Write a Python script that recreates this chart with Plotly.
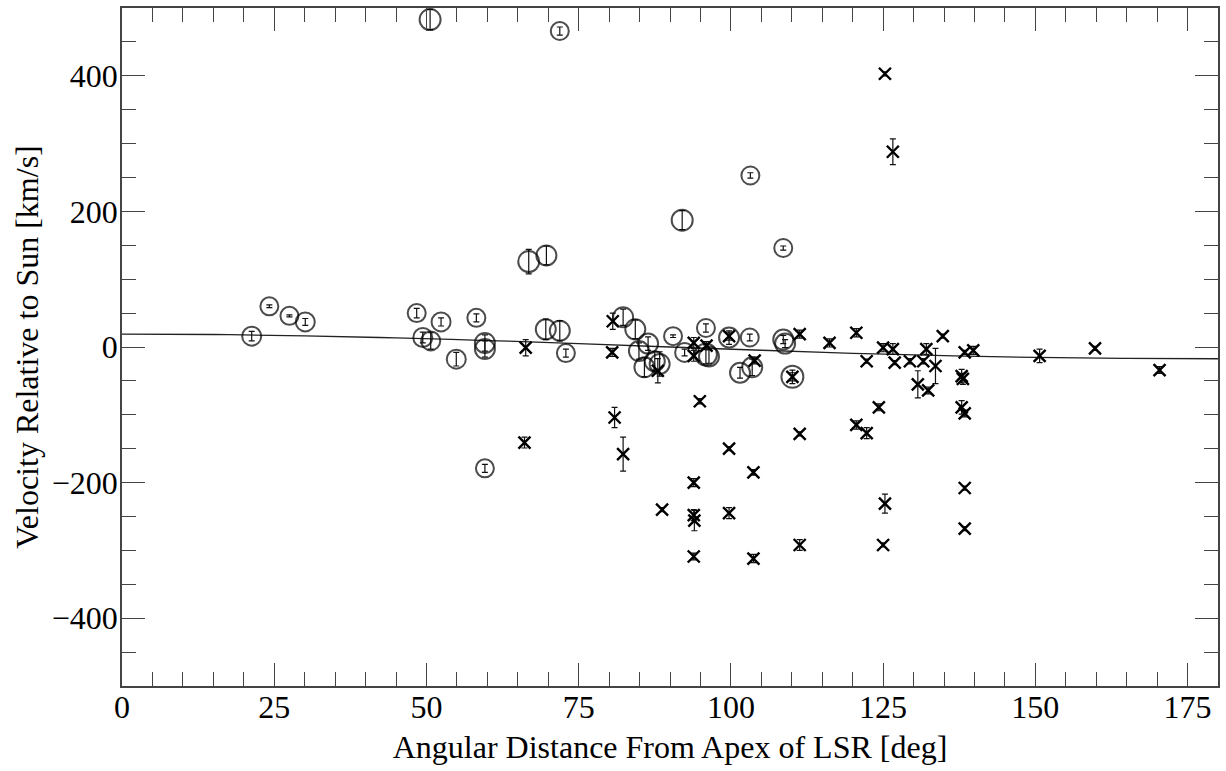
import plotly.graph_objects as go

# Circle-marked objects: angle [deg], velocity [km/s], error [km/s]
circ_x = [21.3, 24.2, 27.5, 30.1, 48.4, 49.4, 50.6, 50.7, 52.4, 54.9, 58.2, 59.6, 59.6, 59.6,
          66.8, 69.7, 69.6, 71.9, 71.9, 72.9, 82.3, 84.3, 86.4, 84.9, 85.8, 87.5, 88.3, 90.5,
          92.4, 92.0, 95.9, 95.9, 96.4, 99.7, 103.1, 101.5, 103.5, 103.2, 108.6, 108.6, 108.9, 110.1]
circ_y = [16, 60, 46, 37, 50, 14, 483, 9, 37, -18, 43, 6, -3, -179,
          126, 135, 26, 24, 466, -9, 44, 26, 5, -6, -30, -21, -25, 16,
          -8, 187, 28, -11, -14, 14, 14, -38, -30, 253, 146, 11, 5, -44]
circ_err = [7, 2, 1.5, 5, 7, 8, 15, 12, 6, 10, 6, 12, 12, 6,
            18, 14, 15, 15, 6, 6, 12, 14, 10, 12, 14, 14, 18, 2,
            5, 14, 6, 14, 10, 10, 5, 8, 12, 4, 3, 6, 6, 10]
circ_size = [19, 18, 18, 19, 18, 19, 21, 19, 19, 19, 18, 20, 20, 18,
             21, 20, 20, 20, 18, 18, 20, 20, 20, 20, 20, 20, 20, 18,
             19, 21, 18, 22, 20, 20, 18, 20, 20, 18, 18, 20, 20, 22]

# Cross-marked objects
xs_x = [66.3, 66.1, 80.6, 80.5, 80.9, 82.3, 88.0, 88.7, 93.9, 93.9, 96.0, 94.9, 93.9, 93.9,
        94.0, 93.9, 99.7, 99.7, 99.7, 103.9, 103.7, 103.7, 110.1, 111.3, 111.3, 111.3, 116.2,
        120.6, 125.3, 120.6, 122.3, 122.3, 124.3, 125.0, 125.3, 125.0, 126.6, 126.6, 126.9,
        129.4, 130.7, 131.6, 132.1, 132.4, 133.6, 134.8, 137.9, 138.1, 137.9, 138.4, 138.4,
        139.8, 138.4, 138.4, 150.7, 159.8, 170.4]
xs_y = [-1, -141, 38, -8, -104, -158, -35, -240, 6, -13, 2, -80, -200, -248,
        -256, -309, 16, -150, -245, -20, -185, -312, -44, 19, -128, -292, 6,
        21, 403, -115, -21, -127, -89, -1, -231, -292, -3, 288, -23,
        -21, -55, -21, -3, -64, -28, 16, -43, -47, -89, -98, -8,
        -5, -208, -268, -13, -2, -34]
xs_err = [12, 8, 12, 6, 15, 25, 18, 3, 8, 8, 6, 4, 6, 8,
          15, 5, 6, 3, 8, 5, 4, 6, 6, 6, 3, 8, 6,
          6, 3, 6, 3, 8, 5, 6, 14, 3, 8, 19, 3,
          4, 20, 4, 8, 5, 26, 3, 10, 8, 10, 5, 3,
          6, 3, 3, 10, 3, 5]

# Fit curve
fit_x = [0, 15, 30, 45, 60, 75, 90, 105, 120, 135, 150, 165, 180]
fit_y = [19, 18.4, 16.5, 13.4, 9.5, 5, 0, -4.8, -9.3, -12.8, -15.3, -16.7, -17.3]

FONT = "Liberation Serif"

fig = go.Figure()
fig.add_trace(go.Scatter(x=fit_x, y=fit_y, mode="lines",
                         line=dict(color="#222222", width=1.3, shape="spline"),
                         hoverinfo="skip", showlegend=False))
fig.add_trace(go.Scatter(
    x=circ_x, y=circ_y, mode="markers",
    marker=dict(symbol="circle-open", size=circ_size, color="black",
                line=dict(color="black", width=2)),
    error_y=dict(type="data", array=circ_err, visible=True, color="#111111",
                 thickness=1.2, width=3),
    showlegend=False))
fig.add_trace(go.Scatter(
    x=xs_x, y=xs_y, mode="markers",
    marker=dict(symbol="x-thin-open", size=12, color="black",
                line=dict(color="black", width=2.4)),
    error_y=dict(type="data", array=xs_err, visible=True, color="#111111",
                 thickness=1.2, width=3),
    showlegend=False))

axis_common = dict(showline=True, linecolor="#444444", linewidth=1.5, mirror="ticks",
                   ticks="inside", ticklen=23, tickwidth=1.3, tickcolor="#444444",
                   showgrid=False, zeroline=False,
                   tickfont=dict(family=FONT, size=32, color="black"))

fig.update_layout(
    width=1226, height=771,
    margin=dict(l=122, r=8, t=6, b=85),
    paper_bgcolor="white", plot_bgcolor="white",
    xaxis=dict(range=[0, 180], tick0=0, dtick=25, ticklabelstandoff=-8,
               minor=dict(ticks="inside", ticklen=14, dtick=5, tickcolor="#444444", tickwidth=1.2),
               title=dict(text="Angular Distance From Apex of LSR [deg]",
                          font=dict(family=FONT, size=32, color="black"), standoff=11),
               **axis_common),
    yaxis=dict(range=[-500, 500], tick0=0, dtick=200, ticklabelstandoff=-4,
               minor=dict(ticks="inside", ticklen=14, dtick=50, tickcolor="#444444", tickwidth=1.2),
               title=dict(text="Velocity Relative to Sun [km/s]",
                          font=dict(family=FONT, size=32, color="black"), standoff=4),
               **axis_common),
)

fig.write_html("out.html")
